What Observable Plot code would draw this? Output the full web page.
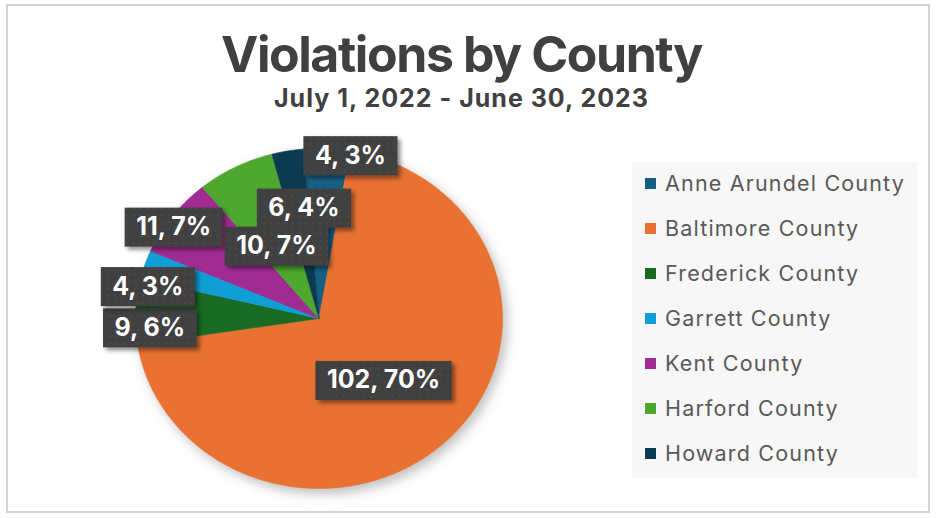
<!DOCTYPE html>
<html>
<head>
<meta charset="utf-8">
<script src="https://cdn.jsdelivr.net/npm/d3@7"></script>
<script src="https://cdn.jsdelivr.net/npm/@observablehq/plot@0.6"></script>
<style>
  body { margin: 0; background: #fff; }
  #wrap { position: relative; width: 937px; height: 518px; overflow: hidden; font-family: Inter, "Noto Sans", sans-serif; }
  #frame { position: absolute; left: 6px; top: 4px; width: 924px; height: 509px; border: 2px solid #d4d4d4; box-sizing: border-box; }
  .ttl { position: absolute; left: 0; width: 923px; text-align: center; color: #404040; font-weight: 700; white-space: nowrap; }
  #title { top: 24px; font-size: 50px; line-height: 60px; }
  #subtitle { top: 82px; font-size: 25px; line-height: 32px; }
  #chart { position: absolute; left: 0; top: 0; width: 937px; height: 518px; }
  #chart svg { display: block; }
  #legend { position: absolute; left: 632px; top: 162px; width: 286px; height: 316px; background: #f7f7f7; }
  .lg { position: absolute; left: 13px; height: 24px; display: flex; align-items: center; color: #595959; font-size: 21.5px; white-space: nowrap; }
  .sw { width: 11px; height: 11px; margin-right: 9px; flex: none; }
  #err { position: absolute; left: 10px; top: 400px; font: 12px monospace; color: red; }
</style>
</head>
<body>
<div id="wrap">
  <div id="frame"></div>
  <div id="chart"></div>
  <div class="ttl" id="title">Violations by County</div>
  <div class="ttl" id="subtitle">July 1, 2022 - June 30, 2023</div>
  <div id="legend"></div>
  <div id="err"></div>
</div>
<script>
// ---- data ----
const counties = ["Anne Arundel County", "Baltimore County", "Frederick County", "Garrett County", "Kent County", "Harford County", "Howard County"];
const violations = [6, 102, 9, 4, 11, 10, 4];
const percentLabels = ["4%", "70%", "6%", "3%", "7%", "7%", "3%"];
const colors = ["#156082", "#E97132", "#196B24", "#0F9ED5", "#A02B93", "#4EA72E", "#0C3A50"];

// ---- layout / style (not data) ----
const firstSliceAngle = -5;           // degrees, Excel "angle of first slice"
const labelRadius = 0.65;
const labelNudge = [[-20, 0], [-19, -17], [-50, 14], [-58, 3], [-50, -25], [12, 26], [52, -54]];

// legend
const lg = d3.select("#legend");
counties.forEach((c, i) => {
  const row = lg.append("div").attr("class", "lg").style("top", (9 + 45 * i) + "px");
  row.append("div").attr("class", "sw").style("background", colors[i]);
  row.append("span").text(c);
});

// fit text widths to the reference
function fitWidth(el, target) {
  const r = document.createRange(); r.selectNodeContents(el);
  const w = r.getBoundingClientRect().width;
  const n = el.textContent.length;
  el.style.letterSpacing = ((target - w) / n) + "px";
}
fitWidth(document.getElementById("title"), 481);
fitWidth(document.getElementById("subtitle"), 375);
{
  const firstLegend = document.querySelector("#legend .lg span");
  const w = firstLegend.getBoundingClientRect().width;
  const ls = (240 - w) / firstLegend.textContent.length;
  document.querySelectorAll("#legend .lg span").forEach(s => s.style.letterSpacing = ls + "px");
}

try {
const a0 = firstSliceAngle * Math.PI / 180;
const arcs = d3.pie().sort(null).startAngle(a0).endAngle(a0 + 2 * Math.PI)(violations);

const slices = arcs.map((a, i) => {
  const n = Math.max(2, Math.ceil((a.endAngle - a.startAngle) / (Math.PI / 180)));
  const pts = [{x: 0, y: 0}];
  for (let k = 0; k <= n; k++) {
    const t = a.startAngle + (a.endAngle - a.startAngle) * k / n;
    pts.push({x: Math.sin(t), y: -Math.cos(t)});
  }
  return pts;
});

const labels = arcs.map((a, i) => {
  const m = (a.startAngle + a.endAngle) / 2;
  return {x: labelRadius * Math.sin(m), y: -labelRadius * Math.cos(m),
          text: `${violations[i]}, ${percentLabels[i]}`, dx: labelNudge[i][0], dy: labelNudge[i][1]};
});

const plot = Plot.plot({
  width: 937, height: 518, margin: 0,
  style: {background: "transparent", overflow: "visible"},
  x: {domain: [-1, 1], range: [135, 502], axis: null},
  y: {domain: [-1, 1], range: [148, 488], axis: null},
  marks: [
    ...slices.map((pts, i) => Plot.line(pts, {x: "x", y: "y", fill: colors[i], stroke: colors[i], strokeWidth: 0.6, curve: "linear-closed"})),
    ...labels.map(d => Plot.text([d], {x: "x", y: "y", text: "text", dx: d.dx, dy: d.dy, fill: "white",
      fontSize: 25, fontWeight: 700, fontFamily: "Inter, sans-serif"}))
  ]
});
document.getElementById("chart").appendChild(plot);

// defs: dotted label texture and shadows
const svg = d3.select(plot);
const defs = svg.insert("defs", ":first-child");
const pat = defs.append("pattern").attr("id", "dots").attr("width", 7).attr("height", 7).attr("patternUnits", "userSpaceOnUse");
pat.append("rect").attr("width", 7).attr("height", 7).attr("fill", "#404040");
pat.append("circle").attr("cx", 2).attr("cy", 2).attr("r", 0.8).attr("fill", "#575757");
const f1 = defs.append("filter").attr("id", "boxshadow").attr("x", "-20%").attr("y", "-30%").attr("width", "150%").attr("height", "170%");
f1.append("feDropShadow").attr("dx", 3).attr("dy", 3).attr("stdDeviation", 2).attr("flood-color", "#000").attr("flood-opacity", 0.45);

// wrap pie slices in one group with a soft shadow
const lineGroups = svg.selectAll('g[aria-label="line"]').nodes();
if (lineGroups.length) {
  const pieG = svg.insert("g", () => lineGroups[0]).attr("style", "filter: drop-shadow(4px 5px 6px rgba(0,0,0,0.25))");
  lineGroups.forEach(g => pieG.node().appendChild(g));
}

svg.selectAll('g[aria-label="text"] text').each(function() {
  const b = this.getBBox();
  const padX = 11.5, h = 39;
  const cy = b.y + b.height / 2;
  d3.select(this.parentNode).insert("rect", () => this)
    .attr("x", b.x - padX).attr("y", cy - h / 2 + 1)
    .attr("width", b.width + 2 * padX).attr("height", h)
    .attr("transform", this.getAttribute("transform"))
    .attr("fill", "url(#dots)").attr("filter", "url(#boxshadow)");
});
} catch (e) { document.getElementById("err").textContent = "ERR " + e.message; }
</script>
</body>
</html>
